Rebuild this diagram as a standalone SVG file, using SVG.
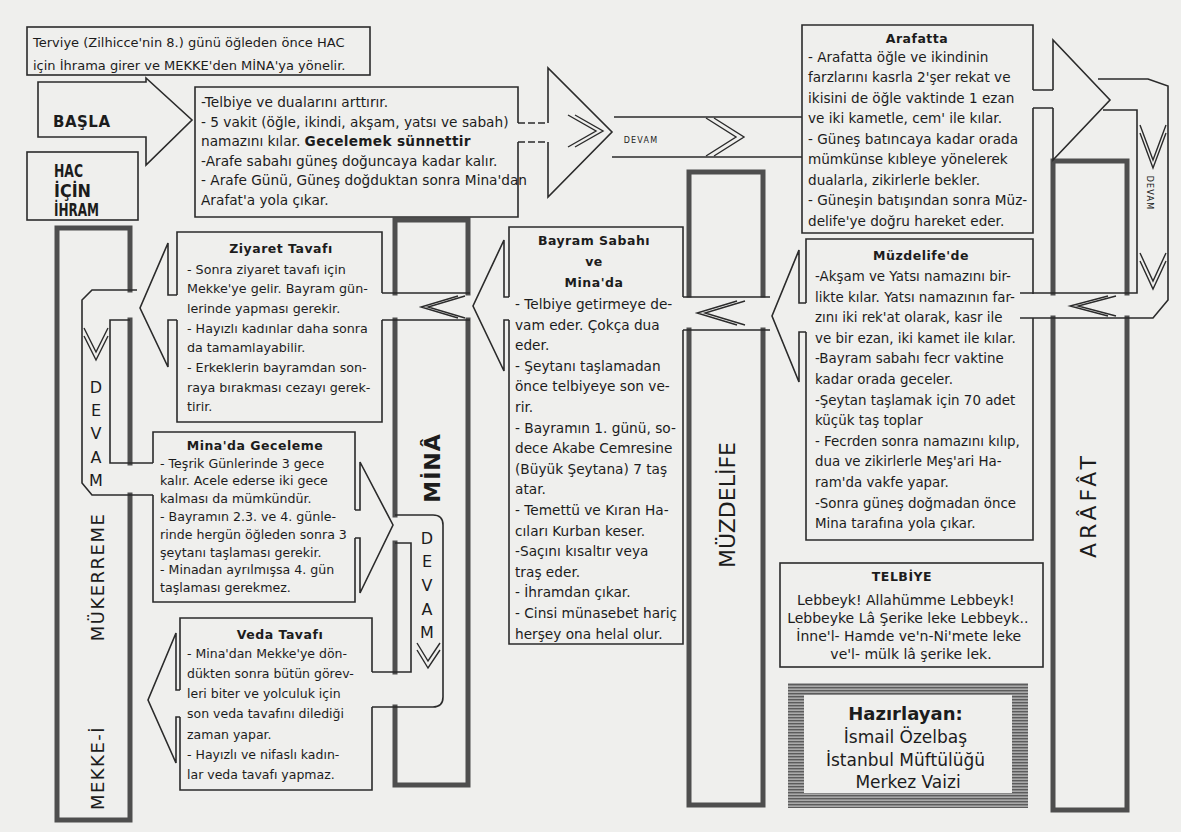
<svg xmlns="http://www.w3.org/2000/svg" width="1181" height="832" viewBox="0 0 1181 832">
<defs>
<style>
.ln{fill:none;stroke:#2b2b2b;stroke-width:1.6}
.ch{fill:none;stroke:#2b2b2b;stroke-width:1.4}
.dash{fill:none;stroke:#2b2b2b;stroke-width:1.6;stroke-dasharray:7 3}
.col{fill:none;stroke:#4e4e4e;stroke-width:5;stroke-linecap:square}
text{font-family:"DejaVu Sans","Liberation Sans",sans-serif;fill:#1c1c1c}
.ttl{font-weight:bold;font-size:12.5px;text-anchor:middle;letter-spacing:0.5px}
.lbl{text-anchor:middle}
.dv{font-size:16px;text-anchor:middle}
.sm{font-size:8px;letter-spacing:1.2px;text-anchor:middle}
</style>
<pattern id="hatch" width="6" height="3" patternUnits="userSpaceOnUse">
<rect width="6" height="3" fill="#a9a9a9"/>
<rect width="6" height="1.4" fill="#5c5c5c"/>
</pattern>
</defs>
<rect width="1181" height="832" fill="#efefed"/>

<!-- columns -->
<g id="col-mekke">
<path class="col" d="M57,228 H130 M57,228 V820 H130 M130,228 V290 M130,320 V463 M130,495 V820"/>
<text class="lbl" font-size="18" letter-spacing="1.5" transform="translate(103.5,768) rotate(-90)">MEKKE-İ</text>
<text class="lbl" font-size="18" letter-spacing="1.5" transform="translate(103.5,577) rotate(-90)">MÜKERREME</text>
</g>
<g id="col-mina">
<path class="col" d="M395,220 H468 V293 M468,320 V785 H395 M395,220 V293 M395,320 V515 M395,543 V672 M395,707 V785"/>
<text class="lbl" font-size="22" font-weight="bold" letter-spacing="1" transform="translate(440,468) rotate(-90)">MİNÂ</text>
</g>
<g id="col-muzdelife">
<path class="col" d="M689,172 H763 V295 M763,330 V805 H689 M689,172 V295 M689,330 V805"/>
<text class="lbl" font-size="22" transform="translate(735,505) rotate(-90)">MÜZDELİFE</text>
</g>
<g id="col-arafat">
<path class="col" d="M1053,161 H1127 V293 M1127,318 V810 H1053 M1053,161 V293 M1053,318 V810"/>
<text class="lbl" font-size="22" letter-spacing="4" transform="translate(1096,505) rotate(-90)">ARÂFÂT</text>
</g>

<!-- nodes -->
<g id="terviye">
<rect class="ln" x="27" y="27" width="343" height="48"/>
<text font-size="13"><tspan x="33" y="46.5">Terviye (Zilhicce'nin 8.) günü öğleden önce HAC</tspan><tspan x="33" y="69.5">için İhrama girer ve MEKKE'den MİNA'ya yönelir.</tspan></text>
</g>
<g id="basla">
<path class="ln" d="M38,82 H146 V78 L192,120 L146,165 V137 H38 Z"/>
<text x="53" y="127" font-size="15" font-weight="bold" letter-spacing="0.5">BAŞLA</text>
</g>
<g id="hac">
<rect class="ln" x="27" y="152" width="111" height="68"/>
<text font-size="17" font-weight="bold" lengthAdjust="spacingAndGlyphs" x="54" y="177" textLength="29">HAC</text>
<text font-size="17" font-weight="bold" lengthAdjust="spacingAndGlyphs" x="54" y="196.5" textLength="37">İÇİN</text>
<text font-size="17" font-weight="bold" lengthAdjust="spacingAndGlyphs" x="54" y="216" textLength="45">İHRAM</text>
</g>
<g id="mina-box">
<path class="ln" d="M518,123 V87 H195 V217 H518 V142"/>
<text font-size="13.7">
<tspan x="201" y="107">-Telbiye ve dualarını arttırır.</tspan>
<tspan x="201" y="126.5">- 5 vakit (öğle, ikindi, akşam, yatsı ve sabah)</tspan>
<tspan x="201" y="146">namazını kılar. <tspan font-weight="bold" letter-spacing="0.3">Gecelemek sünnettir</tspan></tspan>
<tspan x="201" y="165.5">-Arafe sabahı güneş doğuncaya kadar kalır.</tspan>
<tspan x="201" y="185">- Arafe Günü, Güneş doğduktan sonra Mina'dan</tspan>
<tspan x="201" y="204.5">Arafat'a yola çıkar.</tspan>
</text>
</g>
<g id="arafatta">
<path class="ln" d="M1033,90 V25 H802 V233 H1033 V108"/>
<text class="ttl" x="917" y="43">Arafatta</text>
<text font-size="13.6">
<tspan x="808" y="61.5">- Arafatta öğle ve ikindinin</tspan>
<tspan x="808" y="82">farzlarını kasrla 2'şer rekat ve</tspan>
<tspan x="808" y="102.5">ikisini de öğle vaktinde 1 ezan</tspan>
<tspan x="808" y="123">ve iki kametle, cem' ile kılar.</tspan>
<tspan x="808" y="143.5">- Güneş batıncaya kadar orada</tspan>
<tspan x="808" y="164">mümkünse kıbleye yönelerek</tspan>
<tspan x="808" y="184.5">dualarla, zikirlerle bekler.</tspan>
<tspan x="808" y="205">- Güneşin batışından sonra Müz-</tspan>
<tspan x="808" y="225.5">delife'ye doğru hareket eder.</tspan>
</text>
</g>
<g id="muzdelifede">
<path class="ln" d="M806,303 V239 H1033 V294 M1033,318 V540 H806 V332"/>
<path class="ln" d="M806,303 H799 V250 L772,316 L799,382 V332 H806"/>
<text class="ttl" x="921" y="260">Müzdelife'de</text>
<text font-size="13.4">
<tspan x="815" y="281">-Akşam ve Yatsı namazını bir-</tspan>
<tspan x="815" y="301.6">likte kılar. Yatsı namazının far-</tspan>
<tspan x="815" y="322.2">zını iki rek'at olarak, kasr ile</tspan>
<tspan x="815" y="342.8">ve bir ezan, iki kamet ile kılar.</tspan>
<tspan x="815" y="363.4">-Bayram sabahı fecr vaktine</tspan>
<tspan x="815" y="384">kadar orada geceler.</tspan>
<tspan x="815" y="404.6">-Şeytan taşlamak için 70 adet</tspan>
<tspan x="815" y="425.2">küçük taş toplar</tspan>
<tspan x="815" y="445.8">- Fecrden sonra namazını kılıp,</tspan>
<tspan x="815" y="466.4">dua ve zikirlerle Meş'ari Ha-</tspan>
<tspan x="815" y="487">ram'da vakfe yapar.</tspan>
<tspan x="815" y="507.6">-Sonra güneş doğmadan önce</tspan>
<tspan x="815" y="528.2">Mina tarafına yola çıkar.</tspan>
</text>
</g>
<g id="bayram">
<path class="ln" d="M509,297 V227 H683 V297 M683,330 V644 H509 V320"/>
<path class="ln" d="M509,297 H504 V240 L473,306 L504,371 V320 H509"/>
<text class="ttl"><tspan x="594" y="245">Bayram Sabahı</tspan><tspan x="594" y="266">ve</tspan><tspan x="594" y="287">Mina'da</tspan></text>
<text font-size="13.7">
<tspan x="515" y="309">- Telbiye getirmeye de-</tspan>
<tspan x="515" y="329.6">vam eder. Çokça dua</tspan>
<tspan x="515" y="350.2">eder.</tspan>
<tspan x="515" y="370.8">- Şeytanı taşlamadan</tspan>
<tspan x="515" y="391.4">önce telbiyeye son ve-</tspan>
<tspan x="515" y="412">rir.</tspan>
<tspan x="515" y="432.6">- Bayramın 1. günü, so-</tspan>
<tspan x="515" y="453.2">dece Akabe Cemresine</tspan>
<tspan x="515" y="473.8">(Büyük Şeytana) 7 taş</tspan>
<tspan x="515" y="494.4">atar.</tspan>
<tspan x="515" y="515">- Temettü ve Kıran Ha-</tspan>
<tspan x="515" y="535.6">cıları Kurban keser.</tspan>
<tspan x="515" y="556.2">-Saçını kısaltır veya</tspan>
<tspan x="515" y="576.8">traş eder.</tspan>
<tspan x="515" y="597.4">- İhramdan çıkar.</tspan>
<tspan x="515" y="618">- Cinsi münasebet hariç</tspan>
<tspan x="515" y="638.6">herşey ona helal olur.</tspan>
</text>
</g>
<g id="ziyaret">
<path class="ln" d="M177,295 V232 H382 V293 M382,320 V422 H177 V320"/>
<path class="ln" d="M177,295 H168 V243 L140,308 L168,367 V320 H177"/>
<text class="ttl" x="281" y="253">Ziyaret Tavafı</text>
<text font-size="12.7">
<tspan x="187" y="273.5">- Sonra ziyaret tavafı için</tspan>
<tspan x="187" y="293.2">Mekke'ye gelir. Bayram gün-</tspan>
<tspan x="187" y="312.9">lerinde yapması gerekir.</tspan>
<tspan x="187" y="332.6">- Hayızlı kadınlar daha sonra</tspan>
<tspan x="187" y="352.3">da tamamlayabilir.</tspan>
<tspan x="187" y="372">- Erkeklerin bayramdan son-</tspan>
<tspan x="187" y="391.7">raya bırakması cezayı gerek-</tspan>
<tspan x="187" y="411.4">tirir.</tspan>
</text>
</g>
<g id="mina-geceleme">
<path class="ln" d="M153,463 V432 H355 V510 M355,538 V602 H153 V495"/>
<path class="ln" d="M355,510 H360 V462 L393,525 L360,593 V538 H355"/>
<text class="ttl" x="255" y="449.5">Mina'da Geceleme</text>
<text font-size="12.6">
<tspan x="160" y="467.5">- Teşrik Günlerinde 3 gece</tspan>
<tspan x="160" y="485.3">kalır. Acele ederse iki gece</tspan>
<tspan x="160" y="503.1">kalması da mümkündür.</tspan>
<tspan x="160" y="520.9">- Bayramın 2.3. ve 4. günle-</tspan>
<tspan x="160" y="538.7">rinde hergün öğleden sonra 3</tspan>
<tspan x="160" y="556.5">şeytanı taşlaması gerekir.</tspan>
<tspan x="160" y="574.3">- Minadan ayrılmışsa 4. gün</tspan>
<tspan x="160" y="592.1">taşlaması gerekmez.</tspan>
</text>
</g>
<g id="veda">
<path class="ln" d="M180,690 V618 H372 V672 M372,707 V790 H180 V717"/>
<path class="ln" d="M180,690 H176 V633 L148,700 L176,763 V717 H180"/>
<text class="ttl" x="280" y="638.5" letter-spacing="1.3">Veda Tavafı</text>
<text font-size="12.5">
<tspan x="187" y="657.5">- Mina'dan Mekke'ye dön-</tspan>
<tspan x="187" y="677.8">dükten sonra bütün görev-</tspan>
<tspan x="187" y="698.1">leri biter ve yolculuk için</tspan>
<tspan x="187" y="718.4">son veda tavafını dilediği</tspan>
<tspan x="187" y="738.7">zaman yapar.</tspan>
<tspan x="187" y="759">- Hayızlı ve nifaslı kadın-</tspan>
<tspan x="187" y="779.3">lar veda tavafı yapmaz.</tspan>
</text>
</g>
<g id="telbiye">
<rect class="ln" x="780" y="563" width="263" height="104"/>
<text class="ttl" x="902" y="580.5" font-size="12" letter-spacing="1">TELBİYE</text>
<text font-size="14" text-anchor="middle">
<tspan x="908" y="605">Lebbeyk! Allahümme Lebbeyk!</tspan>
<tspan x="910" y="623">Lebbeyke Lâ Şerike leke Lebbeyk..</tspan>
<tspan x="911" y="641">İnne'l- Hamde ve'n-Ni'mete leke</tspan>
<tspan x="911" y="659">ve'l- mülk lâ şerike lek.</tspan>
</text>
</g>
<g id="hazirlayan">
<path d="M788,683 H1028 V808 H788 Z M804,695 V793 H1012 V695 Z" fill="url(#hatch)" fill-rule="evenodd"/>
<text text-anchor="middle">
<tspan x="908" y="720" font-size="18" font-weight="bold">Hazırlayan:</tspan>
<tspan x="908" y="743" font-size="17">İsmail Özelbaş</tspan>
<tspan x="908" y="766" font-size="17">İstanbul Müftülüğü</tspan>
<tspan x="908" y="788" font-size="17">Merkez Vaizi</tspan>
</text>
</g>

<!-- connectors -->
<g id="connectors">
<path class="dash" d="M518,123 H548 M518,142 H548"/>
<path class="ln" d="M548,123 V68 L612,132 L548,197 V142"/>
<path class="ch" d="M568,115 L596,131 L568,147 M575,115 L603,131 L575,147"/>
<path class="ln" d="M614,117 H802 M612,157 H802"/>
<path class="ch" d="M706,118 L736,137 L706,156 M714,118 L744,137 L714,156"/>
<text class="sm" x="641" y="143">DEVAM</text>
<path class="ln" d="M1033,90 H1053 M1033,108 H1053"/>
<path class="ln" d="M1053,90 V40 L1110,100 L1053,160 V108"/>
<path class="ln" d="M1098,79 H1148 L1168,86 V300 L1153,318 H1020"/>
<path class="ln" d="M1103,110 H1137 V293 H1020"/>
<path class="ch" d="M1140,125 L1153,160 L1166,125 M1140,133 L1153,168 L1166,133"/>
<path class="ch" d="M1140,253 L1153,281 L1166,253 M1140,261 L1153,289 L1166,261"/>
<text class="sm" transform="translate(1147,193) rotate(90)">DEVAM</text>
<path class="ch" d="M1108,296 L1070,306 L1108,316 M1116,296 L1078,306 L1116,316"/>
<path class="ln" d="M683,297 H770 M683,330 H770"/>
<path class="ch" d="M737,301 L697,313 L737,325 M745,301 L705,313 L745,325"/>
<path class="ln" d="M382,293 H470 M382,320 H470"/>
<path class="ch" d="M458,296 L421,307 L458,318 M465,296 L428,307 L465,318"/>
<path class="ln" d="M137,290 H92 L82,300 V483 L92,495 H153"/>
<path class="ln" d="M130,320 H110 V463 H153"/>
<path class="ch" d="M84,328 L96,352 L108,328 M84,336 L96,360 L108,336"/>
<text class="dv"><tspan x="96" y="393">D</tspan><tspan x="96" y="416">E</tspan><tspan x="96" y="439">V</tspan><tspan x="96" y="463">A</tspan><tspan x="96" y="486">M</tspan></text>
<path class="ln" d="M395,515 H433 Q443,515 443,525 V697 Q443,707 433,707 H372"/>
<path class="ln" d="M395,543 H411 V672 H372"/>
<path class="ch" d="M417,643 L428,661 L440,643 M417,650 L428,668 L440,650"/>
<text class="dv"><tspan x="427" y="544">D</tspan><tspan x="427" y="567">E</tspan><tspan x="427" y="591">V</tspan><tspan x="427" y="615">A</tspan><tspan x="427" y="638">M</tspan></text>
</g>
</svg>
